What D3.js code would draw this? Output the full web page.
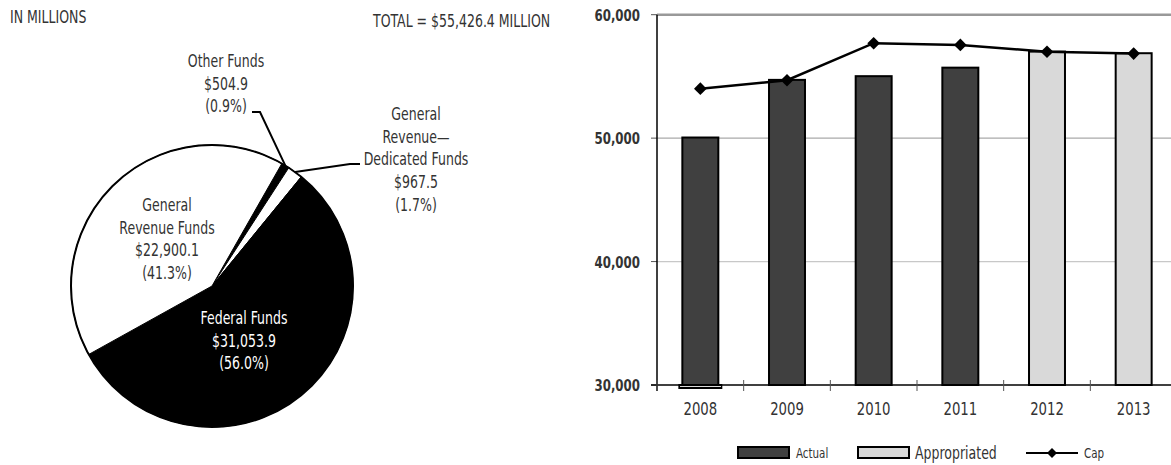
<!DOCTYPE html>
<html>
<head>
<meta charset="utf-8">
<script src="https://cdn.jsdelivr.net/npm/d3@7"></script>
<style>
  html, body { margin: 0; padding: 0; background: #fff; }
  svg text { font-family: "Liberation Sans Narrow", "DejaVu Sans Condensed", "Roboto Condensed", sans-serif; fill: #333; }
</style>
</head>
<body>
<svg id="chart" width="1171" height="465"></svg>
<script>
// pie data (in millions)
var pieNames = [["Other Funds"], ["General", "Revenue\u2014", "Dedicated Funds"], ["Federal Funds"], ["General", "Revenue Funds"]];
var pieValues = [504.9, 967.5, 31053.9, 22900.1];
var pieAmounts = ["$504.9", "$967.5", "$31,053.9", "$22,900.1"];
var piePercents = ["(0.9%)", "(1.7%)", "(56.0%)", "(41.3%)"];
var pieFills = ["#000", "#fff", "#000", "#fff"];
var totalLabel = "TOTAL = $55,426.4 MILLION";

// bar chart data
var years = ["2008", "2009", "2010", "2011", "2012", "2013"];
var actual = [50050, 54720, 55020, 55710, null, null];
var appropriated = [0, null, null, null, 57010, 56880];
var cap = [54010, 54690, 57690, 57550, 57000, 56850];
var yTicks = [30000, 40000, 50000, 60000];

var svg = d3.select("#chart");
var squeeze = 0.82; // narrow the font to look condensed

// text helper: condensed look by scaling x
function addText(parent, x, y, str, size, anchor, color, weight) {
    var g = parent.append("g").attr("transform", "translate(" + x + "," + y + ") scale(" + squeeze + ",1)");
    return g.append("text")
        .attr("text-anchor", anchor || "start")
        .style("font-size", size + "px")
        .style("font-weight", weight || "normal")
        .style("fill", color || "#333")
        .text(str);
}

//----- header texts
addText(svg, 10, 23, "IN MILLIONS", 17);
addText(svg, 373, 27, totalLabel, 17);

//----- pie
var cx = 212, cy = 286, r = 141;
var startA = 29.7 * Math.PI / 180;
var pie = d3.pie().sort(null).startAngle(startA).endAngle(startA + 2 * Math.PI);
var arcs = pie(pieValues);
var arc = d3.arc().innerRadius(0).outerRadius(r);

var pieG = svg.append("g").attr("transform", "translate(" + cx + "," + cy + ")");
pieG.selectAll("path.slice")
    .data(arcs)
    .enter().append("path")
    .attr("class", "slice")
    .attr("d", arc)
    .attr("fill", function(d, i) { return pieFills[i]; })
    .attr("stroke", "#000")
    .attr("stroke-width", 1);
pieG.append("circle").attr("r", r).attr("fill", "none").attr("stroke", "#000").attr("stroke-width", 2);

// label blocks: [x, first baseline, color]
var labelPos = [[226, 67, "#333"], [416, 120, "#333"], [244, 324, "#fff"], [167, 211, "#333"]];
arcs.forEach(function(d, i) {
    var lines = pieNames[i].concat([pieAmounts[i], piePercents[i]]);
    lines.forEach(function(s, k) {
        addText(svg, labelPos[i][0], labelPos[i][1] + k * 22.7, s, 17, "middle", labelPos[i][2]);
    });
});

// leader lines
function edgePoint(d) {
    var p = d3.pointRadial((d.startAngle + d.endAngle) / 2, r);
    return [cx + p[0], cy + p[1]];
}
var leader = d3.line();
var p0 = edgePoint(arcs[0]);
svg.append("path").attr("d", leader([[252, 112], [260, 112], p0]))
    .attr("fill", "none").attr("stroke", "#000").attr("stroke-width", 2);
var p1 = edgePoint(arcs[1]);
svg.append("path").attr("d", leader([p1, [350, 164], [360, 164]]))
    .attr("fill", "none").attr("stroke", "#000").attr("stroke-width", 2);

//----- bar chart
var plotLeft = 657, plotRight = 1177, plotTop = 14.7, plotBottom = 385;
var x = d3.scaleBand().domain(years).range([plotLeft, plotRight]).paddingInner(0.585).paddingOuter(0.2925);
var y = d3.scaleLinear().domain([30000, 60000]).range([plotBottom, plotTop]);
var step = x.step();

// gridlines
svg.append("g").selectAll("line")
    .data(yTicks.slice(1, 3))
    .enter().append("line")
    .attr("x1", plotLeft).attr("x2", 1171)
    .attr("y1", function(d) { return y(d); }).attr("y2", function(d) { return y(d); })
    .attr("stroke", function(d, i) { return i === 0 ? "#c8c8c8" : "#aaa"; }).attr("stroke-width", 1.2);
svg.append("line").attr("x1", plotLeft).attr("x2", 1171).attr("y1", y(60000)).attr("y2", y(60000))
    .attr("stroke", "#999").attr("stroke-width", 2.5);

// y axis
var yG = svg.append("g");
yG.selectAll("line")
    .data(yTicks)
    .enter().append("line")
    .attr("x1", plotLeft - 6).attr("x2", plotLeft)
    .attr("y1", function(d) { return y(d); }).attr("y2", function(d) { return y(d); })
    .attr("stroke", "#555");
yTicks.forEach(function(t) {
    addText(yG, 640, y(t) + 6, d3.format(",")(t), 16, "end", "#333", "bold");
});
svg.append("line").attr("x1", plotLeft).attr("x2", plotLeft).attr("y1", plotTop).attr("y2", plotBottom + 6)
    .attr("stroke", "#000").attr("stroke-width", 1.5);

// bars
function drawBars(values, fill) {
    svg.append("g").selectAll("rect")
        .data(values.map(function(v, i) { return { year: years[i], v: v }; })
            .filter(function(d) { return d.v !== null; }))
        .enter().append("rect")
        .attr("x", function(d) { return d.v < 30000 ? x(d.year) - 3 : x(d.year); })
        .attr("width", function(d) { return d.v < 30000 ? x.bandwidth() + 6 : x.bandwidth(); })
        .attr("y", function(d) { return d.v < 30000 ? plotBottom : y(d.v); })
        .attr("height", function(d) { return d.v < 30000 ? 3 : plotBottom - y(d.v); })
        .attr("fill", fill)
        .attr("stroke", "#000")
        .attr("stroke-width", 2);
}
drawBars(appropriated, "#d9d9d9");
drawBars(actual, "#404040");

// x axis
svg.append("line").attr("x1", plotLeft - 6).attr("x2", 1171).attr("y1", plotBottom).attr("y2", plotBottom)
    .attr("stroke", "#000").attr("stroke-width", 1.5);
svg.append("g").selectAll("line")
    .data(d3.range(years.length + 1))
    .enter().append("line")
    .attr("x1", function(k) { return plotLeft + k * step; })
    .attr("x2", function(k) { return plotLeft + k * step; })
    .attr("y1", plotBottom - 5).attr("y2", plotBottom + 6)
    .attr("stroke", "#555").attr("stroke-width", 1);
years.forEach(function(d) {
    addText(svg, x(d) + x.bandwidth() / 2, 415, d, 18, "middle");
});

// cap line
var capLine = d3.line()
    .x(function(d, i) { return x(years[i]) + x.bandwidth() / 2; })
    .y(function(d) { return y(d); });
svg.append("path").datum(cap).attr("d", capLine)
    .attr("fill", "none").attr("stroke", "#000").attr("stroke-width", 2.5);
var diamond = d3.symbol().type(d3.symbolSquare).size(80);
svg.append("g").selectAll("path")
    .data(cap)
    .enter().append("path")
    .attr("d", diamond)
    .attr("transform", function(d, i) {
        return "translate(" + (x(years[i]) + x.bandwidth() / 2) + "," + y(d) + ") rotate(45)";
    })
    .attr("fill", "#000");

// legend
var lg = svg.append("g");
lg.append("rect").attr("x", 738).attr("y", 447).attr("width", 51).attr("height", 11)
    .attr("fill", "#404040").attr("stroke", "#000").attr("stroke-width", 2);
addText(lg, 796, 458, "Actual", 14);
lg.append("rect").attr("x", 858).attr("y", 447).attr("width", 51).attr("height", 11)
    .attr("fill", "#d9d9d9").attr("stroke", "#000").attr("stroke-width", 2);
addText(lg, 915, 458.5, "Appropriated", 17);
lg.append("line").attr("x1", 1026).attr("x2", 1078).attr("y1", 453).attr("y2", 453)
    .attr("stroke", "#000").attr("stroke-width", 2);
lg.append("path").attr("d", d3.symbol().type(d3.symbolSquare).size(50))
    .attr("transform", "translate(1052,453) rotate(45)").attr("fill", "#000");
addText(lg, 1084, 458, "Cap", 14);
</script>
</body>
</html>
